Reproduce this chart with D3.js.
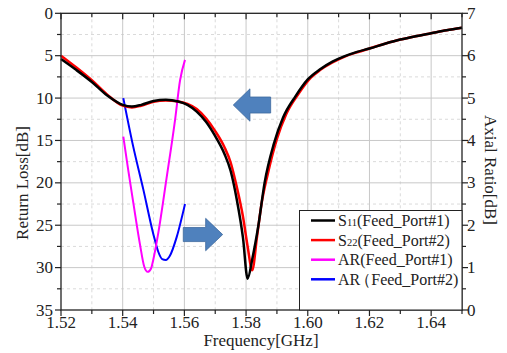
<!DOCTYPE html>
<html>
<head>
<meta charset="utf-8">
<script src="https://cdnjs.cloudflare.com/ajax/libs/d3/7.8.5/d3.min.js"></script>
<style>
  body { margin:0; background:white; }
</style>
</head>
<body>
<div id="chart"></div>
<script>

// S11 / S22 return loss, dB (freq in GHz)
var s11Freq = [1.520,1.525,1.530,1.535,1.540,1.543,1.546,1.550,1.554,1.558,1.561,1.564,1.567,1.570,1.573,1.575,1.577,1.579,1.5805,1.582,1.584,1.586,1.589,1.592,1.596,1.600,1.604,1.608,1.612,1.616,1.620,1.625,1.630,1.635,1.640,1.645,1.650];
var s11Val  = [5.4,6.7,8.1,9.7,10.8,11.0,10.8,10.35,10.2,10.4,10.8,11.6,12.8,14.5,16.6,18.6,22.0,26.5,31.3,29.0,25.0,20.0,15.4,12.3,9.8,7.8,6.6,5.7,5.05,4.55,4.15,3.6,3.1,2.7,2.35,2.0,1.7];

var s22Freq = [1.520,1.525,1.530,1.535,1.540,1.543,1.546,1.550,1.554,1.558,1.561,1.564,1.567,1.570,1.573,1.575,1.577,1.579,1.5805,1.582,1.5835,1.585,1.587,1.590,1.593,1.597,1.601,1.604,1.608,1.612,1.616,1.620,1.625,1.630,1.635,1.640,1.645,1.650];
var s22Val  = [5.0,6.4,7.9,9.6,10.9,11.1,10.9,10.45,10.3,10.4,10.7,11.3,12.4,13.9,15.8,17.6,20.5,24.0,27.5,30.3,26.5,22.5,19.0,14.8,11.9,9.5,7.6,6.7,5.8,5.1,4.6,4.15,3.6,3.1,2.7,2.35,2.0,1.7];

// axial ratio, dB (right axis)
var ar1Freq = [1.5402,1.5418,1.5434,1.5456,1.5470,1.5481,1.5492,1.5499,1.5515,1.5542,1.5570,1.5586,1.5602];
var ar1Val  = [4.09,3.30,2.55,1.55,1.02,0.90,0.98,1.18,1.80,3.10,4.50,5.42,5.90];

var ar2Freq = [1.5402,1.5434,1.5467,1.5499,1.5515,1.5528,1.5540,1.5553,1.5575,1.5602];
var ar2Val  = [5.00,3.86,2.84,1.80,1.38,1.20,1.18,1.28,1.72,2.50];

var xTicks = [1.52,1.54,1.56,1.58,1.60,1.62,1.64];
var yTicks = [0,5,10,15,20,25,30,35];
var y2Ticks = [0,1,2,3,4,5,6,7];

var legendNames = ["S|11|(Feed_Port#1)","S|22|(Feed_Port#2)","AR(Feed_Port#1)","AR（Feed_Port#2)"];
var legendColors = ["#000000","#ff0000","#ff00ff","#0000ff"];

var FONT = "Liberation Serif";
var W = 507, H = 353;
var x = d3.scaleLinear().domain([1.52,1.65]).range([61,462]);
var y = d3.scaleLinear().domain([0,35]).range([13.3,310]);
var y2 = d3.scaleLinear().domain([7,0]).range([13.3,310]);

var svg = d3.select("#chart").append("svg")
  .attr("width",W).attr("height",H);

// grid
var minorX = d3.range(1.53,1.65,0.02);
var minorY = d3.range(2.5,35,5);
var grid = svg.append("g");
grid.selectAll("line.mx").data(minorX).enter().append("line")
  .attr("x1",function(d){ return x(d); }).attr("x2",function(d){ return x(d); })
  .attr("y1",y(0)).attr("y2",y(35))
  .attr("stroke","#dadada").attr("stroke-dasharray","3,3").attr("stroke-width",1);
grid.selectAll("line.my").data(minorY).enter().append("line")
  .attr("y1",function(d){ return y(d); }).attr("y2",function(d){ return y(d); })
  .attr("x1",x(1.52)).attr("x2",x(1.65))
  .attr("stroke","#dadada").attr("stroke-dasharray","3,3").attr("stroke-width",1);
grid.selectAll("line.gx").data(xTicks.slice(1)).enter().append("line")
  .attr("x1",function(d){ return x(d); }).attr("x2",function(d){ return x(d); })
  .attr("y1",y(0)).attr("y2",y(35))
  .attr("stroke","#c8c8c8").attr("stroke-width",1);
grid.selectAll("line.gy").data(yTicks.slice(1,-1)).enter().append("line")
  .attr("y1",function(d){ return y(d); }).attr("y2",function(d){ return y(d); })
  .attr("x1",x(1.52)).attr("x2",x(1.65))
  .attr("stroke","#c8c8c8").attr("stroke-width",1);

// curves
var line = d3.line().curve(d3.curveMonotoneX);
function pts(fr,vals,sc) {
  return fr.map(function(f,i){ return [x(f), sc(vals[i])]; });
}
svg.append("path").attr("d",line(pts(ar2Freq,ar2Val,y2)))
  .attr("fill","none").attr("stroke","#0000ff").attr("stroke-width",2);
svg.append("path").attr("d",line(pts(ar1Freq,ar1Val,y2)))
  .attr("fill","none").attr("stroke","#ff00ff").attr("stroke-width",2);
svg.append("path").attr("d",line(pts(s22Freq,s22Val,y)))
  .attr("fill","none").attr("stroke","#ff0000").attr("stroke-width",2.5);
svg.append("path").attr("d",line(pts(s11Freq,s11Val,y)))
  .attr("fill","none").attr("stroke","#000000").attr("stroke-width",2.5);

// arrows (data units)
var arrows = [
  { tip:1.57585, base:1.58126, end:1.58797, mid:10.82, bodyH:0.945, headH:1.91 },
  { tip:1.57241, base:1.56690, end:1.55964, mid:26.1, bodyH:0.83, headH:1.91 }
];
arrows.forEach(function(a) {
  var p = [
    [x(a.tip), y(a.mid)],
    [x(a.base), y(a.mid-a.headH)],
    [x(a.base), y(a.mid-a.bodyH)],
    [x(a.end), y(a.mid-a.bodyH)],
    [x(a.end), y(a.mid+a.bodyH)],
    [x(a.base), y(a.mid+a.bodyH)],
    [x(a.base), y(a.mid+a.headH)]
  ];
  svg.append("polygon")
    .attr("points",p.map(function(q){ return q.join(","); }).join(" "))
    .attr("fill","#4f81bd").attr("stroke","#3d6a9e").attr("stroke-width",0.8);
});

// frame
svg.append("rect")
  .attr("x",x(1.52)).attr("y",y(0))
  .attr("width",x(1.65)-x(1.52)).attr("height",y(35)-y(0))
  .attr("fill","none").attr("stroke","#222").attr("stroke-width",1.3);

// ticks
var xMajor = d3.range(1.52,1.655,0.02), xMin = d3.range(1.53,1.655,0.02);
var ax = svg.append("g").attr("stroke","#222").attr("stroke-width",1.2);
xMajor.forEach(function(d){
  ax.append("line").attr("x1",x(d)).attr("x2",x(d)).attr("y1",y(35)).attr("y2",y(35)+6);
  ax.append("line").attr("x1",x(d)).attr("x2",x(d)).attr("y1",y(0)).attr("y2",y(0)+6);
});
xMin.forEach(function(d){
  ax.append("line").attr("x1",x(d)).attr("x2",x(d)).attr("y1",y(35)).attr("y2",y(35)+4);
  ax.append("line").attr("x1",x(d)).attr("x2",x(d)).attr("y1",y(0)).attr("y2",y(0)+4);
});
yTicks.forEach(function(d){
  ax.append("line").attr("x1",x(1.52)-6).attr("x2",x(1.52)).attr("y1",y(d)).attr("y2",y(d));
});
minorY.forEach(function(d){
  ax.append("line").attr("x1",x(1.52)-4).attr("x2",x(1.52)).attr("y1",y(d)).attr("y2",y(d));
});
y2Ticks.forEach(function(d){
  ax.append("line").attr("x1",x(1.65)).attr("x2",x(1.65)+6).attr("y1",y2(d)).attr("y2",y2(d));
});
d3.range(0.5,7,1).forEach(function(d){
  ax.append("line").attr("x1",x(1.65)).attr("x2",x(1.65)+4).attr("y1",y2(d)).attr("y2",y2(d));
});

// tick labels
svg.selectAll("text.xl").data(xTicks).enter().append("text")
  .attr("x",function(d){ return x(d); }).attr("y",327.5)
  .attr("text-anchor","middle").attr("font-size",17).attr("fill","#222")
  .attr("font-family",FONT)
  .text(function(d){ return d3.format(".2f")(d); });
svg.selectAll("text.yl").data(yTicks).enter().append("text")
  .attr("x",53).attr("y",function(d){ return y(d)+5.5; })
  .attr("text-anchor","end").attr("font-size",17).attr("fill","#222")
  .attr("font-family",FONT)
  .text(function(d){ return d; });
svg.selectAll("text.y2l").data(y2Ticks).enter().append("text")
  .attr("x",467).attr("y",function(d){ return y2(d)+5.5; })
  .attr("text-anchor","start").attr("font-size",17).attr("fill","#222")
  .attr("font-family",FONT)
  .text(function(d){ return d; });

// axis titles
svg.append("text").attr("x",261).attr("y",346).attr("fill","#222").attr("font-family",FONT)
  .attr("text-anchor","middle").attr("font-size",17).text("Frequency[GHz]");
svg.append("text").attr("transform","translate(28,183) rotate(-90)").attr("fill","#222").attr("font-family",FONT)
  .attr("text-anchor","middle").attr("font-size",17).text("Return Loss[dB]");
svg.append("text").attr("transform","translate(485,170) rotate(90)").attr("fill","#222").attr("font-family",FONT)
  .attr("text-anchor","middle").attr("font-size",17).text("Axial Ratio[dB]");

// legend
var lg = svg.append("g");
lg.append("rect").attr("x",299.5).attr("y",210.5)
  .attr("width",x(1.65)-299.5).attr("height",y(35)-210.5)
  .attr("fill","white").attr("stroke","#222").attr("stroke-width",1);
legendNames.forEach(function(n,i) {
  var ly = 220.5 + i*19.6;
  lg.append("line").attr("x1",311).attr("x2",335).attr("y1",ly).attr("y2",ly)
    .attr("stroke",legendColors[i]).attr("stroke-width",2.5);
  var t = lg.append("text").attr("x",338).attr("y",ly+5.5).attr("font-size",16)
    .attr("fill","#222").attr("font-family",FONT);
  if(n.indexOf("（") > 0) t.attr("dx","0 0 -5");
  var parts = n.split("|");
  if(parts.length == 1) { t.text(n); return; }
  parts.forEach(function(p,j) {
    if(p == "") return;
    var sp = t.append("tspan").text(p);
    if(j==1) sp.attr("font-size",10.5);
  });
});

</script>
</body>
</html>
